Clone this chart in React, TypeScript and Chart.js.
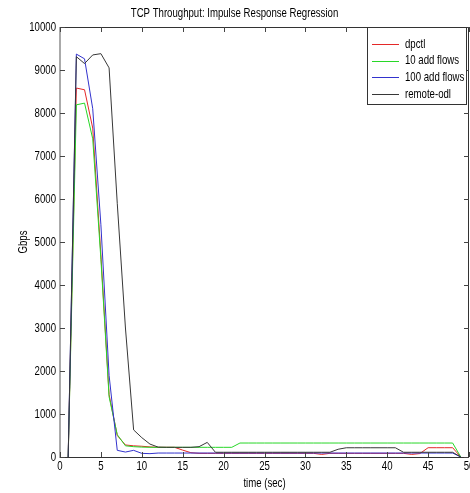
import React, { useEffect, useRef } from "react";
import { Chart, registerables } from "chart.js";
Chart.register(...registerables);

const FONT = "'Liberation Sans', Arial, Helvetica, sans-serif";
const FS = 13;
const TEXT_SCALE_X = 0.74;

const chartTitle = "TCP Throughput: Impulse Response Regression";
const xLabel = "time (sec)";
const yLabel = "Gbps";
const seriesNames = ["dpctl", "10 add flows", "100 add flows", "remote-odl"];
const seriesColors = ["rgb(228,40,40)", "rgb(40,215,40)", "rgb(50,50,205)", "rgb(55,55,55)"];

const times = [1, 2, 3, 4, 5, 6, 7, 8, 9, 10, 11, 12, 13, 14, 15, 16, 17, 18, 19, 20, 21, 22, 23, 24, 25, 26, 27, 28, 29, 30, 31, 32, 33, 34, 35, 36, 37, 38, 39, 40, 41, 42, 43, 44, 45, 46, 47, 48, 49];

const dpctl = [0, 8580, 8540, 7650, 4700, 1450, 500, 280, 260, 250, 235, 225, 225, 225, 160, 100, 85, 85, 85, 85, 85, 85, 85, 85, 85, 85, 85, 85, 85, 85, 85, 60, 85, 85, 85, 85, 85, 85, 85, 85, 85, 85, 60, 80, 216, 216, 216, 216, 0];
const addFlows10 = [0, 8190, 8230, 7400, 4600, 1400, 520, 260, 240, 230, 225, 225, 225, 225, 225, 225, 225, 225, 225, 225, 225, 325, 325, 325, 325, 325, 325, 325, 325, 325, 325, 325, 325, 325, 325, 325, 325, 325, 325, 325, 325, 325, 325, 325, 325, 325, 325, 325, 0];
const addFlows100 = [0, 9370, 9260, 8100, 5400, 1900, 155, 115, 155, 85, 78, 92, 92, 92, 92, 92, 92, 92, 92, 92, 92, 92, 92, 92, 92, 92, 92, 92, 92, 92, 92, 92, 92, 92, 92, 92, 92, 92, 92, 92, 92, 92, 92, 92, 92, 92, 92, 92, 0];
const remoteOdl = [0, 9310, 9150, 9350, 9380, 9050, 5900, 3000, 630, 450, 300, 230, 225, 225, 225, 225, 240, 340, 110, 110, 110, 110, 110, 110, 110, 110, 110, 110, 110, 110, 110, 110, 110, 180, 215, 215, 215, 215, 215, 215, 215, 110, 110, 110, 110, 110, 110, 110, 0];

const xTicks = [0, 5, 10, 15, 20, 25, 30, 35, 40, 45, 50];
const yTicks = [0, 1000, 2000, 3000, 4000, 5000, 6000, 7000, 8000, 9000, 10000];

const allSeries = [dpctl, addFlows10, addFlows100, remoteOdl];

const framePlugin = {
  id: "matlabFrame",
  afterDatasetsDraw(chart: any) {
    const { ctx, chartArea: a, scales } = chart;
    const xs = scales.x, ys = scales.y;
    ctx.save();
    ctx.lineWidth = 1;
    ctx.strokeStyle = "#333";
    ctx.beginPath();
    ctx.moveTo(a.left, a.top + 0.5);
    ctx.lineTo(a.right, a.top + 0.5);
    ctx.moveTo(a.left, a.bottom + 0.5);
    ctx.lineTo(a.right, a.bottom + 0.5);
    ctx.moveTo(a.right - 0.5, a.top);
    ctx.lineTo(a.right - 0.5, a.bottom);
    ctx.stroke();
    ctx.strokeStyle = "#aaa";
    ctx.lineWidth = 2;
    ctx.beginPath();
    ctx.moveTo(a.left, a.top);
    ctx.lineTo(a.left, a.bottom + 1);
    ctx.stroke();
    ctx.strokeStyle = "#444";
    ctx.lineWidth = 1;
    ctx.beginPath();
    const tl = 5;
    xTicks.forEach((v) => {
      const px = Math.round(xs.getPixelForValue(v)) + 0.5;
      ctx.moveTo(px, a.bottom);
      ctx.lineTo(px, a.bottom - tl);
      ctx.moveTo(px, a.top);
      ctx.lineTo(px, a.top + tl);
    });
    yTicks.forEach((v) => {
      const py = Math.round(ys.getPixelForValue(v)) + 0.5;
      ctx.moveTo(a.left, py);
      ctx.lineTo(a.left + tl, py);
      ctx.moveTo(a.right, py);
      ctx.lineTo(a.right - tl, py);
    });
    ctx.stroke();
    // legend
    const lx = 367, ly = a.top, lw = 99, lh = 77;
    ctx.fillStyle = "#fff";
    ctx.fillRect(lx, ly, lw, lh);
    ctx.strokeStyle = "#333";
    ctx.strokeRect(lx + 0.5, ly + 0.5, lw, lh);
    ctx.font = `${FS}px ${FONT}`;
    ctx.textBaseline = "middle";
    ctx.textAlign = "left";
    seriesNames.forEach((name, i) => {
      const y = ly + 17 + i * 16.7;
      ctx.strokeStyle = seriesColors[i];
      ctx.beginPath();
      ctx.moveTo(lx + 5, Math.round(y) + 0.5);
      ctx.lineTo(lx + 32, Math.round(y) + 0.5);
      ctx.stroke();
      ctx.fillStyle = "#000";
      ctx.fillText(name, lx + 38, y);
    });
    ctx.restore();
  },
};

export default function App() {
  const ref = useRef<HTMLCanvasElement>(null);
  useEffect(() => {
    document.body.style.margin = "0";
    const canvas = ref.current!;
    const c2d: any = canvas.getContext("2d");
    const origFill = c2d.fillText;
    c2d.fillText = function (text: string, x: number, y: number, maxWidth?: number) {
      this.save();
      this.translate(x, y);
      this.scale(TEXT_SCALE_X, 1);
      origFill.call(this, text, 0, 0);
      this.restore();
    };
    const datasets = seriesNames.map((name, i) => ({
      label: name,
      data: times.map((t, j) => ({ x: t, y: allSeries[i][j] })),
      borderColor: seriesColors[i],
      backgroundColor: seriesColors[i],
      borderWidth: 1,
      pointRadius: 0,
      tension: 0,
      fill: false,
      order: seriesNames.length - 1 - i,
    }));
    const chart = new Chart(canvas, {
      type: "line",
      data: { datasets },
      plugins: [framePlugin],
      options: {
        animation: false,
        responsive: false,
        devicePixelRatio: 1,
        layout: { padding: { left: 0, right: 1, top: 0, bottom: 0 } },
        plugins: {
          legend: { display: false },
          tooltip: { enabled: false },
          title: {
            display: true,
            text: chartTitle,
            color: "#000",
            font: { family: FONT, size: FS, weight: "normal" },
            padding: { top: 5.2, bottom: 6.2 },
          },
        },
        scales: {
          x: {
            type: "linear",
            min: 0,
            max: 50,
            grid: { display: false, drawTicks: false },
            border: { display: false },
            ticks: {
              stepSize: 5,
              autoSkip: false,
              maxRotation: 0,
              padding: 2,
              color: "#000",
              font: { family: FONT, size: FS },
              callback: (v: any) => String(v),
            },
            title: {
              display: true,
              text: xLabel,
              color: "#000",
              font: { family: FONT, size: FS },
              padding: { top: 0, bottom: 1.9 },
            },
            afterFit(scale: any) {
              scale.height = 36;
              scale.paddingLeft = 0;
              scale.paddingRight = 0;
            },
          },
          y: {
            min: 0,
            max: 10000,
            grid: { display: false, drawTicks: false },
            border: { display: false },
            ticks: {
              stepSize: 1000,
              padding: 4,
              color: "#000",
              font: { family: FONT, size: FS },
              callback: (v: any) => String(v),
            },
            title: {
              display: true,
              text: yLabel,
              color: "#000",
              font: { family: FONT, size: FS },
              padding: { top: 15.2, bottom: 0 },
            },
            afterFit(scale: any) {
              scale.width = 60;
              scale.paddingTop = 0;
              scale.paddingBottom = 0;
            },
          },
        },
      },
    } as any);
    return () => {
      chart.destroy();
      c2d.fillText = origFill;
    };
  }, []);
  return (
    <div style={{ width: 470, height: 493, position: "relative" }}>
      <canvas ref={ref} width={470} height={493} style={{ display: "block" }} />
    </div>
  );
}
